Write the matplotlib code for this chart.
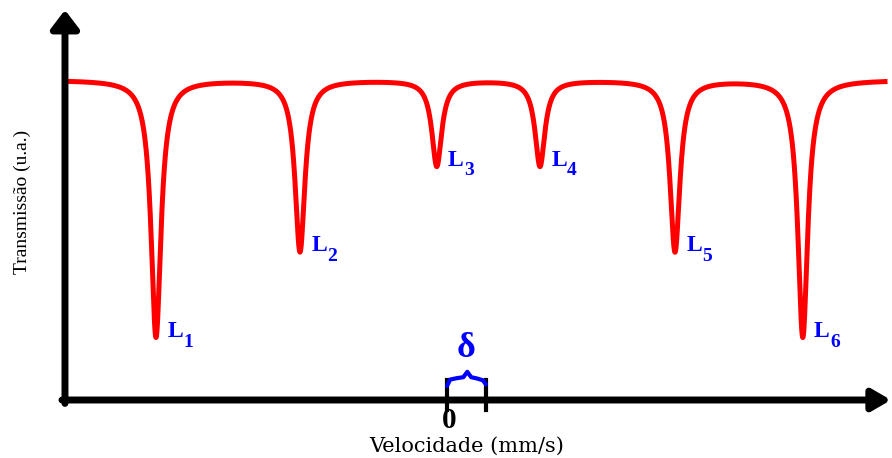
import numpy as np
import matplotlib
matplotlib.use("Agg")
import matplotlib.pyplot as plt

# Mossbauer sextet: line positions (mm/s), relative depths and half width
line_labels = ["1", "2", "3", "4", "5", "6"]
line_positions = [-4.85, -2.45, -0.17, 1.55, 3.80, 5.93]
line_depths = [0.30, 0.20, 0.10, 0.10, 0.20, 0.30]
hwhm = 0.10
isomer_shift = 0.65

RED = "#FF0000"
BLUE = "#0000FF"
SERIF = "Liberation Serif"

fig = plt.figure(figsize=(8.92, 4.58), dpi=100)
ax = fig.add_axes([0, 0, 1, 1])
ax.set_xlim(-7.45, 7.4167)
ax.set_ylim(1 - 378 / 857, 1 + 80 / 857)
ax.axis("off")

# spectrum as a sum of Lorentzian absorption lines
v = np.linspace(-6.3, 7.3, 4000)
trans = np.ones_like(v)
for pos, depth in zip(line_positions, line_depths):
    trans -= depth * hwhm**2 / ((v - pos) ** 2 + hwhm**2)
ax.plot(v, trans, color=RED, lw=3.6, solid_joinstyle="round", zorder=3)

# line labels L with a large, low subscript
for lab, pos, depth in zip(line_labels, line_positions, line_depths):
    ax.annotate("L", xy=(pos, 1 - depth), xytext=(8, 0),
                textcoords="offset points", ha="left", va="baseline",
                color=BLUE, fontsize=17, fontweight="bold", family=SERIF)
    ax.annotate(lab, xy=(pos, 1 - depth), xytext=(19.5, -7),
                textcoords="offset points", ha="left", va="baseline",
                color=BLUE, fontsize=14, fontweight="bold", family=SERIF)

# axes drawn as thick arrows
x_axis_y = 0.6266
y_axis_x = -6.367
arrow = dict(arrowstyle="-|>,head_length=0.55,head_width=0.42",
             color="black", lw=5, shrinkA=0, shrinkB=0, mutation_scale=20)
ax.annotate("", xy=(y_axis_x, 1.0817), xytext=(y_axis_x, x_axis_y - 0.004),
            arrowprops=arrow)
arrow_x = dict(arrow, arrowstyle="-|>,head_length=0.55,head_width=0.32")
ax.annotate("", xy=(7.40, x_axis_y), xytext=(y_axis_x - 0.05, x_axis_y),
            arrowprops=arrow_x)

# ticks at zero velocity and at the isomer shift
for xt in (0.0, isomer_shift):
    ax.plot([xt, xt], [0.615, 0.650], color="black", lw=3, zorder=4)

# curly brace marking the isomer shift
u = np.array([0.0, 0.08, 0.25, 0.42, 0.52, 0.62, 0.78, 0.92, 1.0])
w = np.array([0.0, 0.45, 0.55, 0.62, 1.0, 0.62, 0.52, 0.40, 0.10])
ax.plot(u * isomer_shift, 0.643 + w * 0.0165, color=BLUE, lw=3,
        solid_joinstyle="round", solid_capstyle="round", zorder=5)
ax.text(isomer_shift * 0.5, 0.668, "δ", ha="center", va="bottom",
        color=BLUE, fontsize=26, fontweight="bold", family=SERIF)

ax.text(0.03, 0.618, "0", ha="center", va="top", fontsize=21,
        fontweight="bold", family=SERIF)
ax.text(0.33, 0.573, "Velocidade (mm/s)", ha="center", va="center",
        fontsize=15, family="DejaVu Serif")
ax.text(22 / 60 - 7.45, 1 - (202 - 80) / 857, "Transmissão (u.a.)",
        rotation=90, ha="center", va="center", fontsize=14, family=SERIF)

fig.savefig("out.png", dpi=100)
